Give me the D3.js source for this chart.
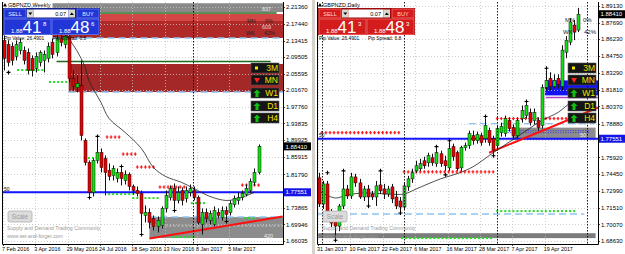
<!DOCTYPE html>
<html><head><meta charset="utf-8">
<script src="https://cdnjs.cloudflare.com/ajax/libs/d3/7.8.5/d3.min.js"></script>
<style>
html,body{margin:0;padding:0;background:#fff;}
svg{display:block;}
text{font-family:"Liberation Sans",Arial,sans-serif;}
</style></head>
<body>
<svg id="chart" width="625" height="254"></svg>
<script>
// ================= DATA =================
// Weekly GBPNZD (left chart)
const weeklyOpen=[2.1346,2.1251,2.1204,2.0967,2.1109,2.1109,2.1062,2.0920,2.0683,2.0825,2.0873,2.0920,2.1298,2.1062,2.1393,2.1251,2.1440,2.0447,2.0234,2.0281,1.8981,1.8461,1.7751,1.8508,1.8697,1.8555,1.8271,1.8153,1.8082,1.8224,1.8035,1.8177,1.7893,1.7798,1.7727,1.7207,1.7278,1.7136,1.6947,1.6971,1.7373,1.7633,1.7846,1.7562,1.7798,1.7609,1.7751,1.7798,1.7633,1.6994,1.7278,1.7089,1.6994,1.7278,1.7160,1.7325,1.7278,1.7467,1.7562,1.7633,1.7704,1.7798,1.7988,1.8224];
const weeklyHigh=[2.1464,2.1346,2.1298,2.1346,2.1393,2.1204,2.1156,2.0991,2.1062,2.1109,2.1109,2.1298,2.1393,2.1488,2.1535,2.1582,2.1582,2.0636,2.0518,2.0873,1.9028,1.8508,1.8555,1.9028,1.8792,1.8626,1.8437,1.8390,1.8319,1.8319,1.8271,1.8224,1.7940,1.7893,1.7798,1.7444,1.7373,1.7207,1.7184,1.7420,1.7798,1.7917,1.7964,1.7893,1.7869,1.7893,1.7940,1.7893,1.7680,1.7373,1.7373,1.7325,1.7420,1.7373,1.7420,1.7420,1.7562,1.7680,1.7751,1.7798,1.7940,1.8082,1.8319,1.8886];
const weeklyLow=[2.0636,2.0731,2.0754,2.0873,2.1015,2.0778,2.0542,2.0494,2.0589,2.0731,2.0589,2.0825,2.0920,2.0967,2.1204,2.1156,2.0352,2.0163,2.0116,1.8981,1.8390,1.7680,1.7656,1.8437,1.8224,1.7680,1.8035,1.8035,1.7988,1.7917,1.7940,1.7798,1.7704,1.7656,1.6805,1.7042,1.6900,1.6852,1.6805,1.6900,1.7278,1.7562,1.7373,1.7491,1.7444,1.7515,1.7656,1.7562,1.6994,1.6758,1.7042,1.6994,1.6947,1.7136,1.7089,1.7113,1.7207,1.7396,1.7467,1.7562,1.7656,1.7727,1.7917,1.8177];
const weeklyClose=[2.0920,2.0825,2.0873,2.1251,2.1298,2.0873,2.0636,2.0636,2.0967,2.1062,2.1015,2.1204,2.1015,2.1393,2.1298,2.1440,2.0447,2.0258,2.0329,1.9099,1.8461,1.7751,1.8508,1.8697,1.8342,1.8224,1.8130,1.8319,1.8224,1.8082,1.8177,1.7893,1.7798,1.7727,1.7254,1.7278,1.7042,1.6947,1.7089,1.7373,1.7680,1.7846,1.7562,1.7751,1.7562,1.7798,1.7846,1.7633,1.7042,1.7278,1.7136,1.7254,1.7325,1.7207,1.7325,1.7231,1.7491,1.7609,1.7633,1.7727,1.7846,1.8011,1.8224,1.8841];
const weeklyDateLabels=["7 Feb 2016","3 Apr 2016","29 May 2016","24 Jul 2016","18 Sep 2016","13 Nov 2016","8 Jan 2017","5 Mar 2017"];
const weeklyDateIdx=[0,8,16,24,32,40,48,56];
const weeklyPriceTicks=["2.21360","2.17440","2.13415","2.09505","2.05595","2.01670","1.97760","1.93835","1.89925","1.85915","1.81790","1.77880","1.73865","1.69946","1.66035"];
const weeklyMaIdx=[13,15,18,20,21,24,26,30,34,37,40,44,47,51,55,58,62];
const weeklyMa=[2.1866,2.1535,2.1109,2.0731,2.0400,1.9880,1.9502,1.9170,1.8792,1.8342,1.8130,1.7988,1.7846,1.7656,1.7562,1.7609,1.7751];
const weeklyZoneTop=[2.2225,2.1970,2.1805,2.0788,1.7170];
const weeklyZoneBottom=[2.2018,2.1805,2.1403,2.0126,1.6674];
const weeklyZoneFrom=[12,12,12,16,36];
const weeklyZoneTo=[80,80,80,80,80];
const weeklyLevelPrice=[2.1994,2.0847];
const weeklyLevelFrom=[14,13];
const weeklyLevelTo=[67.5,66];
const weeklyDashPrice=[2.1403,2.0126,1.7170];
const weeklyDashFrom=[12,16,36];
const weeklyTrendIdx=[36,69];
const weeklyTrendPrice=[1.6663,1.7184];
const weeklyRedRowPrice=[1.9061,1.8659,1.8352,1.7879,1.7926];
const weeklyRedRowFrom=[25.5,29.5,33,38.6,59];
const weeklyRedRowTo=[28.7,33,37,45.3,63.4];
const weeklyGreenRowPrice=[2.0646,2.0362,1.8565,1.7713,1.7619,1.7500,1.7145,1.6696];
const weeklyGreenRowFrom=[3.5,11.4,20,26,32,46.5,59.7,41.8];
const weeklyGreenRowTo=[9.7,15.6,23,32,38.6,49.8,62.6,46.8];
const weeklyFracIdx=[1,23,21,29,34,42,55];
const weeklyFracPrice=[2.0590,1.9076,1.7633,1.8366,1.6758,1.7325,1.7066];
const weeklySeparatorIdx=[46.8];

// Daily GBPNZD (right chart)
const dailyOpen=[1.7414,1.7186,1.7361,1.7107,1.7037,1.6993,1.7168,1.7317,1.7256,1.7422,1.7370,1.7247,1.7317,1.7273,1.7247,1.7352,1.7317,1.7273,1.7335,1.7247,1.7212,1.7159,1.7335,1.7405,1.7475,1.7493,1.7563,1.7545,1.7589,1.7537,1.7624,1.7563,1.7501,1.7686,1.7633,1.7501,1.7677,1.7694,1.7782,1.7738,1.7782,1.7756,1.7826,1.7756,1.7694,1.7808,1.7800,1.7914,1.7852,1.7782,1.7931,1.7957,1.7984,1.7914,1.7914,1.7870,1.8203,1.8282,1.8212,1.8282,1.8212,1.8510,1.8598,1.8747,1.8703];
const dailyHigh=[1.7458,1.7387,1.7387,1.7142,1.7072,1.7186,1.7458,1.7352,1.7458,1.7449,1.7405,1.7344,1.7352,1.7300,1.7387,1.7458,1.7361,1.7344,1.7361,1.7300,1.7247,1.7370,1.7431,1.7493,1.7563,1.7580,1.7598,1.7633,1.7624,1.7668,1.7651,1.7607,1.7721,1.7712,1.7651,1.7694,1.7721,1.7826,1.7826,1.7817,1.7808,1.7931,1.7852,1.7782,1.7870,1.7896,1.7957,1.7940,1.7879,1.7931,1.8045,1.8063,1.8019,1.8019,1.7940,1.8229,1.8352,1.8335,1.8317,1.8317,1.8571,1.8650,1.8808,1.8791,1.8896];
const dailyLow=[1.7159,1.7142,1.7089,1.6984,1.6888,1.6949,1.7142,1.7230,1.7230,1.7335,1.7230,1.7212,1.7186,1.7221,1.7168,1.7273,1.7230,1.7247,1.7194,1.7142,1.7124,1.7142,1.7300,1.7370,1.7458,1.7475,1.7493,1.7510,1.7519,1.7510,1.7510,1.7475,1.7475,1.7563,1.7475,1.7475,1.7651,1.7668,1.7703,1.7712,1.7694,1.7721,1.7694,1.7624,1.7668,1.7773,1.7773,1.7817,1.7756,1.7756,1.7896,1.7931,1.7870,1.7879,1.7826,1.7843,1.8177,1.8177,1.8194,1.8194,1.8177,1.8457,1.8571,1.8615,1.8685];
const dailyClose=[1.7186,1.7361,1.7124,1.7019,1.6993,1.7168,1.7317,1.7256,1.7422,1.7370,1.7247,1.7317,1.7247,1.7247,1.7344,1.7300,1.7273,1.7317,1.7230,1.7168,1.7159,1.7344,1.7405,1.7458,1.7519,1.7537,1.7519,1.7607,1.7545,1.7633,1.7537,1.7519,1.7668,1.7598,1.7493,1.7677,1.7694,1.7800,1.7738,1.7791,1.7721,1.7870,1.7721,1.7651,1.7843,1.7861,1.7931,1.7843,1.7782,1.7914,1.8001,1.8045,1.7896,1.7984,1.7852,1.8203,1.8264,1.8212,1.8264,1.8229,1.8528,1.8615,1.8773,1.8685,1.8841];
const dailyDateLabels=["31 Jan 2017","10 Feb 2017","22 Feb 2017","6 Mar 2017","16 Mar 2017","28 Mar 2017","7 Apr 2017","19 Apr 2017"];
const dailyDateIdx=[0,8,16,24,32,40,48,56];
const dailyPriceTicks=["1.89130","1.87690","1.86230","1.84750","1.83290","1.81810","1.80370","1.78880","1.77400","1.75920","1.74450","1.72990","1.71510","1.70070","1.68630"];
const dailyMaIdx=[0,4,7,11,17,21,24,30,34,38,43,49,55,59,62];
const dailyMa=[1.7300,1.7238,1.7265,1.7282,1.7273,1.7273,1.7317,1.7405,1.7449,1.7510,1.7633,1.7773,1.7914,1.7984,1.8071];
const dailyZoneTop=[1.7852,1.8264,1.6931];
const dailyZoneBottom=[1.7747,1.8133,1.6888];
const dailyZoneFrom=[47.6,55.8,-2];
const dailyZoneTo=[68.3,80,68.3];
const dailyLevelPrice=[1.8115];
const dailyLevelFrom=[56];
const dailyLevelTo=[80];
const dailyDashPrice=[1.7887,1.7098];
const dailyDashFrom=[37,-1];
const dailyDashTo=[68.1,65.5];
const dailyBlueDotPrice=[1.7826,1.7808];
const dailyTrendIdx=[42,69];
const dailyTrendPrice=[1.7633,1.8028];
const dailyRedRowPrice=[1.7808,1.7466,1.7931];
const dailyRedRowFrom=[0.7,21,44];
const dailyRedRowTo=[20.5,43,68.5];
const dailyGreenRowPrice=[1.7124,1.6888];
const dailyGreenRowFrom=[44,20.5];
const dailyGreenRowTo=[63.5,43];
const dailyFracIdx=[2,4,6,12,15,20,29,31,32,41,43,51,56];
const dailyFracPrice=[1.7458,1.6870,1.7475,1.7168,1.7475,1.7107,1.7686,1.7440,1.7738,1.7949,1.7607,1.8080,1.8370];
const dailySeparatorIdx=[0.75,21,44,66.2];

// shared
const lastPrice=1.88410;
const keyLevel=1.77551;
const boxLabels=["3M","MN","W1","D1","H4"];
const bidBig="41", askBig="48";
const weeklyBidSup="8", weeklyAskSup="6", dailyBidSup="3", dailyAskSup="3";

// ================= DRAW =================
const svg=d3.select("#chart");
svg.append("rect").attr("width",625).attr("height",254).attr("fill","#fff");
const defs=svg.append("defs");

function buildChart(o){
  const x=d3.scaleLinear().domain(o.idxDomain).range(o.xRange);
  const y=d3.scaleLinear().domain(o.priceDomain).range(o.yRange);
  const [L,T,R,B]=o.box;
  defs.append("clipPath").attr("id","clip"+o.id).append("rect").attr("x",L).attr("y",T).attr("width",R-L).attr("height",B-T);
  const g=svg.append("g");
  const pg=g.append("g").attr("clip-path",`url(#clip${o.id})`);
  const X=i=>Math.max(L,Math.min(R,x(i)));

  // zones
  pg.selectAll("rect.zone").data(o.zoneTop).join("rect")
    .attr("x",(d,k)=>X(o.zoneFrom[k])).attr("y",d=>y(d))
    .attr("width",(d,k)=>X(o.zoneTo[k])-X(o.zoneFrom[k]))
    .attr("height",(d,k)=>y(o.zoneBottom[k])-y(d))
    .attr("fill",(d,k)=>o.zoneColors[k]);

  // grid
  pg.selectAll("line.hg").data(o.priceTicks).join("line")
    .attr("x1",L).attr("x2",R).attr("y1",d=>Math.round(y(+d))+0.5).attr("y2",d=>Math.round(y(+d))+0.5)
    .attr("stroke","#c4c4c4").attr("stroke-width",0.8).attr("stroke-dasharray","1,2");
  pg.selectAll("line.vg").data(o.dateIdx).join("line")
    .attr("x1",d=>Math.round(x(d))-0.5).attr("x2",d=>Math.round(x(d))-0.5).attr("y1",T).attr("y2",B)
    .attr("stroke","#c4c4c4").attr("stroke-width",0.8).attr("stroke-dasharray","1,2");

  o.extraZoneDraw && o.extraZoneDraw(pg,x,y);

  // solid levels
  o.levelPrice.forEach((p,k)=>{
    pg.append("line").attr("x1",X(o.levelFrom[k])).attr("x2",X(o.levelTo[k])).attr("y1",y(p)).attr("y2",y(p))
      .attr("stroke",o.levelColors[k]).attr("stroke-width",1.6);
  });
  // dashed light blue
  o.dashPrice.forEach((p,k)=>{
    pg.append("line").attr("x1",X(o.dashFrom[k])).attr("x2",X(o.dashTo[k])).attr("y1",y(p)).attr("y2",y(p))
      .attr("stroke","#8fc3f2").attr("stroke-width",1.4).attr("stroke-dasharray","7,4");
  });
  // key blue level
  pg.append("line").attr("x1",L).attr("x2",R).attr("y1",y(keyLevel)).attr("y2",y(keyLevel))
    .attr("stroke","#1414ff").attr("stroke-width",2);

  // dotted rows
  const rows=(prices,from,to,col,kind)=>{
    prices.forEach((p,k)=>{
      const pts=d3.range(from[k],to[k]+0.01,1);
      pg.selectAll(null).data(pts).join("rect")
        .attr("x",d=>x(d)-(kind==="r"?0.6:1)).attr("y",y(p)-(kind==="r"?1.6:1))
        .attr("width",kind==="r"?1.3:2).attr("height",kind==="r"?3.2:2).attr("fill",col);
      if(kind==="r") pg.selectAll(null).data(pts).join("rect")
        .attr("x",d=>x(d)-1.4).attr("y",y(p)-0.5).attr("width",2.8).attr("height",1).attr("fill",col);
    });
  };
  rows(o.redRowPrice,o.redRowFrom,o.redRowTo,"#ff1a1a","r");
  rows(o.greenRowPrice,o.greenRowFrom,o.greenRowTo,"#22dd22","g");

  // trend line
  pg.append("line").attr("x1",x(o.trendIdx[0])).attr("y1",y(o.trendPrice[0]))
    .attr("x2",x(o.trendIdx[1])).attr("y2",y(o.trendPrice[1]))
    .attr("stroke","#ff1010").attr("stroke-width",2);

  // moving average
  const ma=o.maIdx.map((d,k)=>[x(d),y(o.ma[k])]);
  pg.append("path").attr("d",d3.line().curve(d3.curveCatmullRom)(ma))
    .attr("fill","none").attr("stroke","#222").attr("stroke-width",0.8);

  // candles
  const idx=d3.range(o.open.length);
  pg.selectAll("line.wick").data(idx).join("line")
    .attr("x1",i=>Math.round(x(i))+0.5).attr("x2",i=>Math.round(x(i))+0.5)
    .attr("y1",i=>y(o.high[i])).attr("y2",i=>y(o.low[i]))
    .attr("stroke","#111").attr("stroke-width",1);
  pg.selectAll("rect.body").data(idx).join("rect")
    .attr("x",i=>Math.round(x(i))-1)
    .attr("y",i=>y(Math.max(o.open[i],o.close[i])))
    .attr("width",3)
    .attr("height",i=>Math.max(1,y(Math.min(o.open[i],o.close[i]))-y(Math.max(o.open[i],o.close[i]))))
    .attr("fill",i=>o.close[i]>=o.open[i]?"#10e010":"#e80000")
    .attr("stroke","#111").attr("stroke-width",0.5);

  // fractal markers
  o.fracIdx.forEach((d,k)=>{
    const cx=Math.round(x(d))+0.5, cy=y(o.fracPrice[k]);
    pg.append("path").attr("d",`M${cx-2},${cy}H${cx+2}M${cx},${cy-2}V${cy+2}`).attr("stroke","#000").attr("stroke-width",1.1);
  });

  // period separators
  pg.selectAll("line.sep").data(o.sepIdx).join("line")
    .attr("x1",d=>Math.round(x(d))+0.5).attr("x2",d=>Math.round(x(d))+0.5).attr("y1",T).attr("y2",B)
    .attr("stroke","#000").attr("stroke-width",0.9).attr("stroke-dasharray","1.5,1.5");

  o.overlay && o.overlay(pg,x,y);

  // frame
  g.append("path").attr("d",`M${L+0.5},${T}V${B+0.5}H${R+0.5}V${T}`).attr("fill","none").attr("stroke","#000").attr("stroke-width",1);

  // price axis (labels hidden under the highlighted price boxes are not drawn)
  const visibleTicks=o.priceTicks.filter(d=>Math.abs(y(+d)-y(lastPrice))>5.5 && Math.abs(y(+d)-y(keyLevel))>5.5);
  g.selectAll("text.pt").data(visibleTicks).join("text")
    .attr("x",R+3).attr("y",d=>y(+d)+2.2).attr("font-size",6).attr("fill","#000").text(d=>d);
  g.selectAll("line.pt").data(o.priceTicks).join("line")
    .attr("x1",R).attr("x2",R+2).attr("y1",d=>Math.round(y(+d))+0.5).attr("y2",d=>Math.round(y(+d))+0.5)
    .attr("stroke","#000").attr("stroke-width",0.7);
  // date axis
  g.selectAll("text.dt").data(o.dateIdx).join("text")
    .attr("x",(d,k)=>x(d)-2).attr("y",B+7).attr("font-size",5.4).attr("fill","#000").text((d,k)=>o.dateLabels[k]);
  g.selectAll("line.dt").data(o.dateIdx).join("line")
    .attr("x1",d=>Math.round(x(d))-0.5).attr("x2",d=>Math.round(x(d))-0.5).attr("y1",B).attr("y2",B+2)
    .attr("stroke","#000").attr("stroke-width",0.7);

  // price boxes
  const pbox=(p,fill,txt)=>{
    g.append("rect").attr("x",R+1).attr("y",y(p)-4).attr("width",27).attr("height",8).attr("fill",fill);
    g.append("text").attr("x",R+2.5).attr("y",y(p)+2.2).attr("font-size",6).attr("fill","#fff").text(txt);
  };
  pbox(lastPrice,"#000",lastPrice.toFixed(5));
  pbox(keyLevel,"#1414e6",keyLevel.toFixed(5));

  // info boxes
  const bx=o.boxX, bys=[63,75,88,101,113];
  boxLabels.forEach((lab,k)=>{
    const by=bys[k];
    g.append("rect").attr("x",bx).attr("y",by).attr("width",28).attr("height",10)
      .attr("fill","#151515").attr("stroke","#555").attr("stroke-width",0.6);
    g.append("text").attr("x",bx+27).attr("y",by+8.3).attr("text-anchor","end")
      .attr("font-size",8.5).attr("fill","#f2e600").text(lab);
    if(k===0){
      g.append("rect").attr("x",bx+4).attr("y",by+3.5).attr("width",3).attr("height",3).attr("fill","#f2e600");
    } else if(k===1){
      g.append("path").attr("d",`M${bx+3},${by+3}h6l-3,5z`).attr("fill","#ff2020");
    } else {
      g.append("path").attr("d",`M${bx+6},${by+1.5}l3.5,3.5h-2v4h-3v-4h-2z`).attr("fill","#10c010");
    }
  });

  return {x,y,g};
}

// LEFT
const left=buildChart({
  id:"L", box:[2,2,283,244],
  idxDomain:[0,63], xRange:[4,258.5],
  priceDomain:[1.66035,2.21360], yRange:[241,7],
  open:weeklyOpen,high:weeklyHigh,low:weeklyLow,close:weeklyClose,
  dateIdx:weeklyDateIdx,dateLabels:weeklyDateLabels,priceTicks:weeklyPriceTicks,
  maIdx:weeklyMaIdx,ma:weeklyMa,
  zoneTop:weeklyZoneTop,zoneBottom:weeklyZoneBottom,zoneFrom:weeklyZoneFrom,zoneTo:weeklyZoneTo,
  zoneColors:["#8a8a8a","#d44646","#b02a2a","#a52828","#8c8c8c"],
  levelPrice:weeklyLevelPrice,levelFrom:weeklyLevelFrom,levelTo:weeklyLevelTo,levelColors:["#1f6a1f","#1f6a1f"],
  dashPrice:weeklyDashPrice,dashFrom:weeklyDashFrom,dashTo:[80,80,80],
  trendIdx:weeklyTrendIdx,trendPrice:weeklyTrendPrice,
  redRowPrice:weeklyRedRowPrice,redRowFrom:weeklyRedRowFrom,redRowTo:weeklyRedRowTo,
  greenRowPrice:weeklyGreenRowPrice,greenRowFrom:weeklyGreenRowFrom,greenRowTo:weeklyGreenRowTo,
  fracIdx:weeklyFracIdx,fracPrice:weeklyFracPrice,sepIdx:weeklySeparatorIdx,
  boxX:251,
  extraZoneDraw:(pg,x,y)=>{
    pg.append("line").attr("x1",x(36)).attr("x2",283).attr("y1",y(1.6960)).attr("y2",y(1.6960))
      .attr("stroke","#e8e8e8").attr("stroke-width",0.8).attr("stroke-dasharray","2,2");
  },
  overlay:(pg,x,y)=>{
    pg.append("text").attr("x",262).attr("y",y(2.2100)+2).attr("font-size",5.5).attr("fill","#e6e6e6").text("837");
    pg.append("text").attr("x",247).attr("y",y(2.1810)+2).attr("font-size",5.5).attr("fill","#222").text("MN");
    pg.append("text").attr("x",265).attr("y",y(2.1810)+2).attr("font-size",5.5).attr("fill","#222").text("0%");
    pg.append("text").attr("x",262).attr("y",y(2.1670)+2).attr("font-size",5.5).attr("fill","#f4c8c8").text("609");
    pg.append("text").attr("x",246).attr("y",y(2.1530)+2).attr("font-size",5.5).attr("fill","#222").text("WK");
    pg.append("text").attr("x",264).attr("y",y(2.1530)+2).attr("font-size",5.5).attr("fill","#222").text("42%");
    pg.append("text").attr("x",264).attr("y",y(1.6720)+2).attr("font-size",5.5).attr("fill","#f0f0f0").text("420");
    pg.append("text").attr("x",4).attr("y",y(keyLevel)-1.5).attr("font-size",5).attr("fill","#000").text("50");
  }
});

// RIGHT
const right=buildChart({
  id:"R", box:[317,2,598,244],
  idxDomain:[0,56], xRange:[319,545.8],
  priceDomain:[1.68630,1.89130], yRange:[241,6],
  open:dailyOpen,high:dailyHigh,low:dailyLow,close:dailyClose,
  dateIdx:dailyDateIdx,dateLabels:dailyDateLabels,priceTicks:dailyPriceTicks,
  maIdx:dailyMaIdx,ma:dailyMa,
  zoneTop:dailyZoneTop,zoneBottom:dailyZoneBottom,zoneFrom:dailyZoneFrom,zoneTo:dailyZoneTo,
  zoneColors:["#8c8c8c","#1212f2","#7c7c7c"],
  levelPrice:dailyLevelPrice,levelFrom:dailyLevelFrom,levelTo:dailyLevelTo,levelColors:["#b040c8"],
  dashPrice:dailyDashPrice,dashFrom:dailyDashFrom,dashTo:dailyDashTo,
  trendIdx:dailyTrendIdx,trendPrice:dailyTrendPrice,
  redRowPrice:dailyRedRowPrice,redRowFrom:dailyRedRowFrom,redRowTo:dailyRedRowTo,
  greenRowPrice:dailyGreenRowPrice,greenRowFrom:dailyGreenRowFrom,greenRowTo:dailyGreenRowTo,
  fracIdx:dailyFracIdx,fracPrice:dailyFracPrice,sepIdx:dailySeparatorIdx,
  boxX:568,
  extraZoneDraw:(pg,x,y)=>{
    dailyBlueDotPrice.forEach(p=>{
      pg.append("line").attr("x1",x(46)).attr("x2",x(67)).attr("y1",y(p)).attr("y2",y(p))
        .attr("stroke","#2a2aff").attr("stroke-width",0.9).attr("stroke-dasharray","1,1.5");
    });
  },
  overlay:(pg,x,y)=>{
    pg.append("text").attr("x",565).attr("y",y(1.8790)+2).attr("font-size",6).attr("fill","#222").text("MN");
    pg.append("text").attr("x",583).attr("y",y(1.8790)+2).attr("font-size",6).attr("fill","#222").text("0%");
    pg.append("text").attr("x",563).attr("y",y(1.8685)+2).attr("font-size",6).attr("fill","#222").text("WK");
    pg.append("text").attr("x",584).attr("y",y(1.8685)+2).attr("font-size",6).attr("fill","#222").text("42%");
    pg.append("text").attr("x",319).attr("y",y(keyLevel)-1.5).attr("font-size",5).attr("fill","#000").text("50");
    pg.append("text").attr("x",580).attr("y",y(keyLevel)-1.5).attr("font-size",5.5).attr("fill","#eee").text("50");
  }
});

// separator between windows
svg.append("rect").attr("x",312).attr("y",0).attr("width",3).attr("height",254).attr("fill","#d6d3cc");

// titles, watermarks, scale buttons
function decor(x0,title){
  svg.append("path").attr("d",`M${x0+1},${6.5}l2,-3.5l2,3.5z`).attr("fill","#000");
  svg.append("text").attr("x",x0+6).attr("y",6.8).attr("font-size",5.5).attr("fill","#000").text(title);
  svg.append("rect").attr("x",x0+6).attr("y",211).attr("width",24).attr("height",11).attr("rx",1.5)
    .attr("fill","#dcdcdc").attr("stroke","#a8a8a8").attr("stroke-width",0.7);
  svg.append("text").attr("x",x0+18).attr("y",219).attr("text-anchor","middle").attr("font-size",6.5).attr("fill","#9a9a9a").text("Scale");
  svg.append("text").attr("x",x0+5).attr("y",229.5).attr("font-size",5.2).attr("fill","#9a9a9a").text("Supply and Demand Trading Community");
  svg.append("text").attr("x",x0+5).attr("y",237.5).attr("font-size",5.2).attr("fill","#9a9a9a").text("www.set-and-forget.com");
}
decor(2,"GBPNZD,Weekly");
decor(317,"GBPNZD,Daily");

// trading panels
function tradePanel(x0,y0,c,bidSup,askSup){
  const g=svg.append("g");
  g.append("rect").attr("x",x0).attr("y",y0).attr("width",97).attr("height",27).attr("fill",c.frame);
  const btn=(bx,lab)=>{
    g.append("rect").attr("x",bx).attr("y",y0+1).attr("width",22).attr("height",9).attr("fill",c.base)
      .attr("stroke",c.light).attr("stroke-width",0.7);
    g.append("text").attr("x",bx+11).attr("y",y0+7.8).attr("text-anchor","middle").attr("font-size",5.5).attr("fill",c.text).text(lab);
  };
  btn(x0+1,"SELL");
  btn(x0+74,"BUY");
  g.append("rect").attr("x",x0+24).attr("y",y0+1.5).attr("width",6.5).attr("height",8).attr("fill","#d8d6d0");
  g.append("path").attr("d",`M${x0+25.3},${y0+4.5}h4l-2,2.5z`).attr("fill","#000");
  g.append("rect").attr("x",x0+30.5).attr("y",y0+1.5).attr("width",35).attr("height",8).attr("fill","#fff");
  g.append("text").attr("x",x0+63).attr("y",y0+7.6).attr("text-anchor","end").attr("font-size",5.5).attr("fill","#000").text("0.07");
  g.append("rect").attr("x",x0+65.5).attr("y",y0+1.5).attr("width",6.5).attr("height",8).attr("fill","#d8d6d0");
  g.append("path").attr("d",`M${x0+66.8},${y0+7}h4l-2,-2.5z`).attr("fill","#000");
  const pbox=(bx,big,sup)=>{
    g.append("rect").attr("x",bx).attr("y",y0+11).attr("width",47).attr("height",15.5).attr("fill",c.base)
      .attr("stroke",c.light).attr("stroke-width",0.7);
    g.append("text").attr("x",bx+7).attr("y",y0+25).attr("font-size",6).attr("fill","#fff").text("1.88");
    g.append("text").attr("x",bx+18.5).attr("y",y0+25).attr("font-size",17).attr("fill","#fff").text(big);
    g.append("text").attr("x",bx+39).attr("y",y0+17.5).attr("font-size",6).attr("fill","#fff").text(sup);
  };
  pbox(x0+1,bidBig,bidSup);
  pbox(x0+49,askBig,askSup);
  svg.append("text").attr("x",x0+1).attr("y",y0+32).attr("font-size",4.8).attr("fill","#000").text("Pip Value: 26.4901");
  svg.append("text").attr("x",x0+50).attr("y",y0+32).attr("font-size",4.8).attr("fill","#000").text("Pip Spread: 6.8");
}
tradePanel(3,8,{frame:"#14208c",base:"#2236d8",light:"#6f86ff",text:"#e8ecff"},weeklyBidSup,weeklyAskSup);
tradePanel(318,8,{frame:"#9a0c0c",base:"#d41c1c",light:"#ff7070",text:"#ffd8d8"},dailyBidSup,dailyAskSup);
</script>
</body></html>
